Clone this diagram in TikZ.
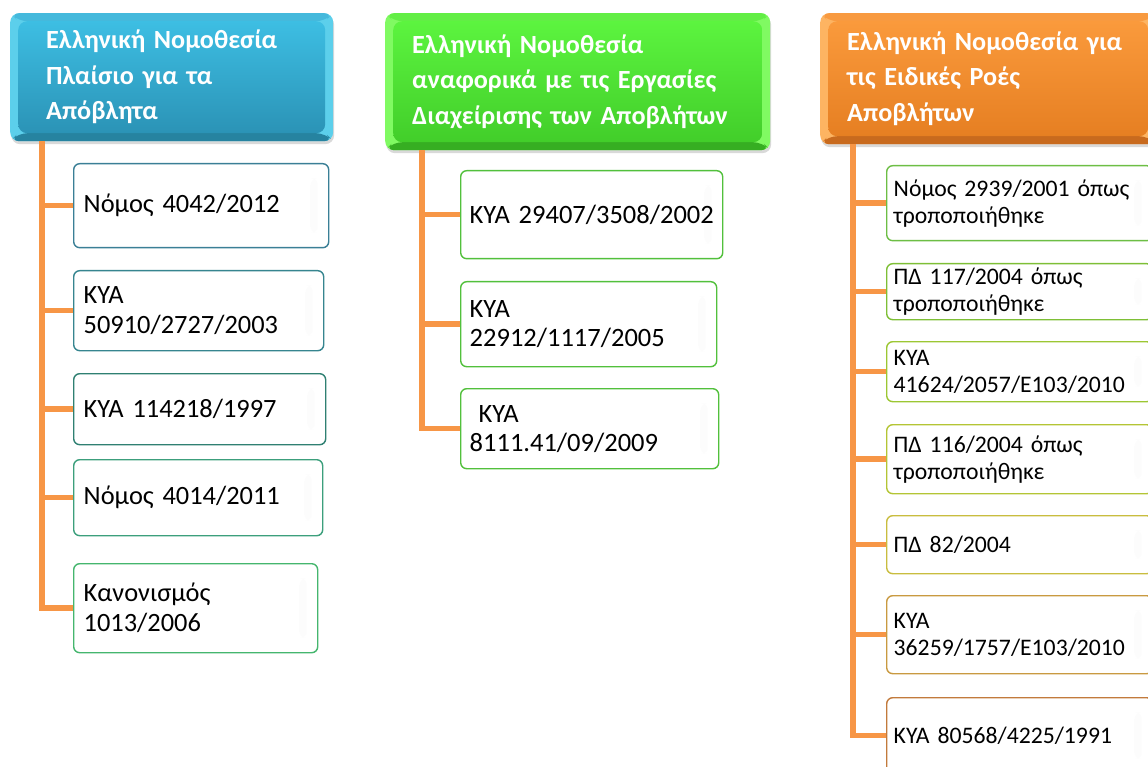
\documentclass[tikz,border=0pt]{standalone}
\usepackage{fontspec}
\setmainfont{Carlito}
\usetikzlibrary{shadows}

\definecolor{wire}{HTML}{F79646}
% header colours: face top/bottom, rim, top edge, bottom edge
\definecolor{bluetop}{HTML}{3DBEE3}
\definecolor{bluebot}{HTML}{2B93B6}
\definecolor{bluerim}{HTML}{5CCFEB}
\definecolor{bluemid}{HTML}{45B9DC}
\definecolor{bluedark}{HTML}{2683A0}
\definecolor{greentop}{HTML}{5CF43F}
\definecolor{greenbot}{HTML}{42CE2A}
\definecolor{greenrim}{HTML}{80FA62}
\definecolor{greenmid}{HTML}{62EE45}
\definecolor{greendark}{HTML}{36AE22}
\definecolor{orangetop}{HTML}{FA9A3C}
\definecolor{orangebot}{HTML}{E67F22}
\definecolor{orangerim}{HTML}{FDB462}
\definecolor{orangemid}{HTML}{F89A40}
\definecolor{orangedark}{HTML}{C86A1E}
% leaf borders
\definecolor{fwa}{HTML}{3A7F96}
\definecolor{fwb}{HTML}{36858F}
\definecolor{fwc}{HTML}{2F8072}
\definecolor{fwd}{HTML}{3C9F7C}
\definecolor{fwe}{HTML}{45B66E}
\definecolor{opsa}{HTML}{52C03C}
\definecolor{fla}{HTML}{6DBE45}
\definecolor{flb}{HTML}{7EBF36}
\definecolor{flc}{HTML}{9CC733}
\definecolor{fld}{HTML}{B4C535}
\definecolor{fle}{HTML}{C9BD3F}
\definecolor{flf}{HTML}{C99A41}
\definecolor{flg}{HTML}{C27A3C}

\begin{document}
\begin{tikzpicture}[x=1pt,y=-1pt
	,conn/.style={draw=wire,line width=5.5pt}
	,hdr/.style={rounded corners=9pt,fill=#1rim,anchor=north west,inner ysep=0pt
		,text=white,align=left,font=\bfseries\fontsize{26.2}{35.5}\selectfont
		,drop shadow={opacity=.3,shadow xshift=1pt,shadow yshift=-3pt}
		,path picture={
			\path (path picture bounding box.north west) coordinate (a)
				(path picture bounding box.south east) coordinate (b);
			\fill[#1dark] (a |- b) -- (b) -- ([shift={(-8pt,8pt)}]b)
				-- ([shift={(8pt,8pt)}]a |- b) -- cycle;
			\fill[#1mid] (a) -- (b |- a) -- ([shift={(-8pt,-8pt)}]b |- a)
				-- ([shift={(8pt,-8pt)}]a) -- cycle;
			\shade[top color=#1top,bottom color=#1bot]
				([shift={(8pt,-8pt)}]a) rectangle ([shift={(-8pt,8pt)}]b);
		}}
	,leaf/.style={draw=#1,line width=1.4pt,rounded corners=6pt,fill=white
		,anchor=north west,inner ysep=0pt,align=left
		,path picture={
			\shade[left color=black!5,right color=black!1]
				([shift={(-18pt,-15pt)}]path picture bounding box.north east)
				rectangle ([shift={(-11pt,15pt)}]path picture bounding box.south east);
		}}
	,size/.style n args={3}{minimum width=#1pt,minimum height=#2pt
		,inner xsep=#3pt,text width=#1pt-#3pt-#3pt}
	]
\path[use as bounding box] (0,0) rectangle (1148,767);
\clip (0,0) rectangle (1148,767);

%% framework column
\node[hdr=blue,size={323}{128}{36}] (fw) at (10,13)
	{Ελληνική Νομοθεσία\\Πλαίσιο για τα\\Απόβλητα};
\begin{scope}[font=\fontsize{26.4}{30}\selectfont]
\node[leaf=fwa,size={255}{84}{10}] (fw1) at (73,163) {Νόμος 4042/2012};
\node[leaf=fwb,size={250}{80}{10}] (fw2) at (73,270) {ΚΥΑ\\50910/2727/2003};
\node[leaf=fwc,size={252}{71}{10}] (fw3) at (73,373) {ΚΥΑ 114218/1997};
\node[leaf=fwd,size={249}{76}{10}] (fw4) at (73,459) {Νόμος 4014/2011};
\node[leaf=fwe,size={244}{89}{10}] (fw5) at (73,563) {Κανονισμός\\1013/2006};
\end{scope}

%% operations column
\node[hdr=green,size={385}{137}{27}] (ops) at (385,13)
	{Ελληνική Νομοθεσία\\αναφορικά με τις Εργασίες\\Διαχείρισης των Αποβλήτων};
\begin{scope}[font=\fontsize{26.5}{29}\selectfont]
\node[leaf=opsa,size={262}{88}{9}] (ops1) at (460,170) {ΚΥΑ~29407/3508/2002};
\node[leaf=opsa,size={256}{85}{9}] (ops2) at (460,281) {ΚΥΑ\\22912/1117/2005};
\node[leaf=opsa,size={258}{80}{9}] (ops3) at (460,388) {\ ΚΥΑ\\8111.41/09/2009};
\end{scope}

%% special flows column
\node[hdr=orange,size={336}{131}{27}] (fl) at (820,13)
	{Ελληνική Νομοθεσία για\\τις Ειδικές Ροές\\Αποβλήτων};
\begin{scope}[font=\fontsize{23.7}{27}\selectfont]
\node[leaf=fla,size={266}{75}{7}] (fl1) at (886,165) {Νόμος 2939/2001 όπως\\τροποποιήθηκε};
\node[leaf=flb,size={266}{56}{7}] (fl2) at (886,263) {ΠΔ 117/2004 όπως\\τροποποιήθηκε};
\node[leaf=flc,size={266}{60}{7}] (fl3) at (886,341) {ΚΥΑ\\41624/2057/Ε103/2010};
\node[leaf=fld,size={266}{69}{7}] (fl4) at (886,424) {ΠΔ 116/2004 όπως\\τροποποιήθηκε};
\node[leaf=fle,size={266}{58}{7}] (fl5) at (886,515) {ΠΔ 82/2004};
\node[leaf=flf,size={266}{78}{7}] (fl6) at (886,595) {ΚΥΑ\\36259/1757/Ε103/2010};
\node[leaf=flg,size={266}{76}{7}] (fl7) at (886,697) {ΚΥΑ 80568/4225/1991};
\end{scope}

%% connectors
\coordinate (tfw) at (42,0);
\coordinate (tops) at (422,0);
\coordinate (tfl) at (853,0);
\draw[conn] (tfw |- fw.south) -- (tfw |- fw5.west) -- (fw5.west);
\foreach \n in {1,...,4}
	\draw[conn] (tfw |- fw\n.west) -- (fw\n.west);
\draw[conn] (tops |- ops.south) -- (tops |- ops3.west) -- (ops3.west);
\foreach \n in {1,2}
	\draw[conn] (tops |- ops\n.west) -- (ops\n.west);
\draw[conn] (tfl |- fl.south) -- (tfl |- fl7.west) -- (fl7.west);
\foreach \n in {1,...,6}
	\draw[conn] (tfl |- fl\n.west) -- (fl\n.west);
\end{tikzpicture}
\end{document}
